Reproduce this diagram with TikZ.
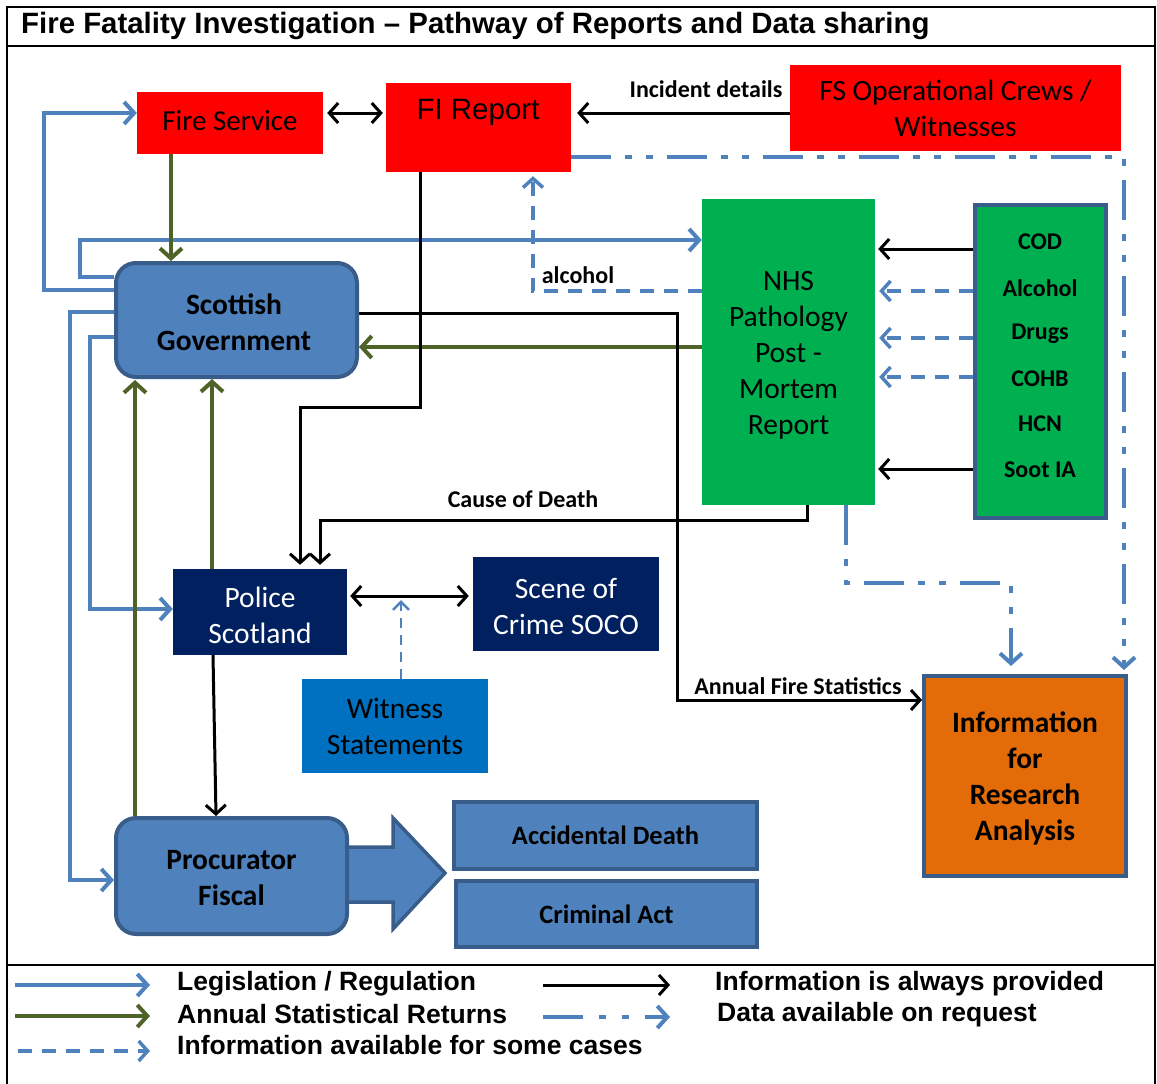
\documentclass[tikz,border=0pt]{standalone}
\usepackage{fontspec}
\setmainfont{Carlito}
\newfontfamily\arialf{Liberation Sans}
\usetikzlibrary{arrows.meta,backgrounds}
\definecolor{fred}{HTML}{FF0000}
\definecolor{fgreen}{HTML}{00B050}
\definecolor{sgblue}{HTML}{4F81BD}
\definecolor{sgborder}{HTML}{385D8A}
\definecolor{navy}{HTML}{002060}
\definecolor{witblue}{HTML}{0070C0}
\definecolor{forange}{HTML}{E36C09}
\definecolor{olive}{HTML}{4F6228}
\tikzset{
  fsz/.style={font=\fontsize{#1}{36}\selectfont},
  redbox/.style={fill=fred, draw=none, inner sep=0pt},
  sgbox/.style={fill=sgblue, draw=sgborder, line width=4pt, rounded corners=20pt, inner sep=0pt, align=center, font=\bfseries\fontsize{29.5}{36}\selectfont},
  navybox/.style={fill=navy, draw=none, inner sep=0pt, align=center, text=white, font=\fontsize{29.5}{36}\selectfont},
  rectbox/.style={fill=sgblue, draw=sgborder, line width=3.5pt, inner sep=0pt, font=\bfseries\fontsize{26.5}{30}\selectfont},
  leg/.style={draw=sgblue, line width=4pt, -{Straight Barb[length=10pt,width=22pt]}},
  stat/.style={draw=olive, line width=4pt, -{Straight Barb[length=10pt,width=22pt]}},
  info/.style={draw=black, line width=3pt, -{Straight Barb[length=9pt,width=20pt]}},
  some/.style={draw=sgblue, line width=3.5pt, dash pattern=on 14pt off 10pt, -{Straight Barb[length=9pt,width=20pt]}},
  req/.style={draw=sgblue, line width=4pt, dash pattern=on 40pt off 14pt on 7pt off 14pt on 7pt off 14pt, -{Straight Barb[length=10pt,width=22pt]}},
  lbl/.style={font=\bfseries\fontsize{24}{28}\selectfont, inner sep=0pt},
  legtxt/.style={anchor=west, inner sep=0pt, font=\arialf\bfseries\fontsize{26.5}{30}\selectfont}
}
\begin{document}
\begin{tikzpicture}[x=1pt,y=-1pt]
\useasboundingbox (0,0) rectangle (1157,1084);
% frame
\draw[line width=2.5pt] (7,1086) -- (7,7) -- (1155,7) -- (1155,1086);
\draw[line width=2.5pt] (7,46) -- (1155,46);
\draw[line width=2.5pt] (7,965) -- (1155,965);
\node[anchor=west, inner sep=0pt, font=\arialf\bfseries\fontsize{29.4}{32}\selectfont] (title) at (21,26) {Fire Fatality Investigation – Pathway of Reports and Data sharing};

% boxes
\node[redbox, minimum width=186pt, minimum height=62pt] (fs) at (230,123) {};
\node[inner sep=0pt, fsz=29] (fst) at (230,121) {Fire Service};
\node[redbox, minimum width=185pt, minimum height=89pt] (fir) at (478.5,127.5) {};
\node[inner sep=0pt, font=\arialf\fontsize{29.5}{32}\selectfont] (firt) at (478,112) {FI Report};
\node[redbox, minimum width=331pt, minimum height=86pt, align=center, fsz=29.5] (crews) at (955.5,108) {FS Operational Crews /\\Witnesses};
\node[fill=fgreen, inner sep=0pt, minimum width=173pt, minimum height=306pt] (nhs) at (788.5,352) {};
\node[inner sep=0pt, align=center, font=\fontsize{29.5}{36}\selectfont] (nhst) at (788.5,355) {NHS\\Pathology\\Post -\\Mortem\\Report};
\node[fill=fgreen, draw=sgborder, line width=4pt, inner sep=0pt, minimum width=131pt, minimum height=313pt] (tests) at (1040.5,361.5) {};
\foreach \t/\yy/\nm in {COD/242/tcod, Alcohol/288/talc, Drugs/334/tdrg, COHB/379/tcoh, HCN/424/thcn, Soot IA/470/tsoot}
  \node[lbl] (\nm) at (1040,\yy) {\t};
\node[sgbox, minimum width=241pt, minimum height=114pt] (sg) at (236.5,320) {};
\node[inner sep=0pt, align=center, font=\bfseries\fontsize{29.5}{36}\selectfont] (sgt) at (234,322) {Scottish\\Government};
\node[navybox, minimum width=174pt, minimum height=86pt] (ps) at (260,612) {};
\node[inner sep=0pt, align=center, text=white, font=\fontsize{29.5}{36}\selectfont] (pst) at (260,615) {Police\\Scotland};
\node[navybox, minimum width=186pt, minimum height=94pt] (soco) at (566,604) {};
\node[inner sep=0pt, align=center, text=white, font=\fontsize{29.5}{36}\selectfont] (socot) at (566,606) {Scene of\\Crime SOCO};
\node[fill=witblue, inner sep=0pt, minimum width=186pt, minimum height=94pt, align=center, font=\fontsize{29.5}{36}\selectfont] (wit) at (395,726) {Witness\\Statements};
\fill[sgblue, draw=sgborder, line width=3.5pt, line join=miter] (340,847) -- (393,847) -- (393,818) -- (445,873) -- (393,929) -- (393,902) -- (340,902) -- cycle;
\node[sgbox, minimum width=231pt, minimum height=116pt] (pf) at (231.5,876) {};
\node[inner sep=0pt, align=center, font=\bfseries\fontsize{29.5}{36}\selectfont] (pft) at (231.5,878) {Procurator\\Fiscal};
\node[rectbox, minimum width=303pt, minimum height=67pt] (acc) at (605.5,835.5) {Accidental Death};
\node[rectbox, minimum width=301pt, minimum height=66pt] (crim) at (606.5,914) {Criminal Act};
\node[fill=forange, draw=sgborder, line width=4pt, inner sep=0pt, minimum width=202pt, minimum height=200pt] (info) at (1025,776) {};
\node[inner sep=0pt, align=center, font=\bfseries\fontsize{29.5}{36}\selectfont] (infot) at (1025,778) {Information\\for\\Research\\Analysis};

% labels
\node[lbl] (lincident) at (706,89) {Incident details};
\node[lbl] (lalc) at (578,275) {alcohol};
\node[lbl] (lcod) at (523,499) {Cause of Death};
\node[lbl] (lafs) at (798,686) {Annual Fire Statistics};

\coordinate (wx) at (401,600);
\begin{scope}[on background layer]
% legislation
\draw[leg] (sg.west |- 0,290) -- (44,290) -- (44,113) -- (fs.west |- 0,113);
\draw[leg] (sg.west |- 0,277) -- (80,277) -- (80,240) -- (nhs.west |- 0,240);
\draw[leg] (sg.west |- 0,312) -- (70,312) -- (70,880) -- (pf.west |- 0,880);
\draw[leg] (sg.west |- 0,337) -- (90,337) -- (90,609) -- (ps.west |- 0,609);
% statistical returns
\draw[stat] (fs.south -| 171,0) -- (sg.north -| 171,0);
\draw[stat] (nhs.west |- 0,347) -- (sg.east |- 0,347);
\draw[stat] (ps.north -| 212,0) -- (sg.south -| 212,0);
\draw[stat] (pf.north -| 135,0) -- ([yshift=-1pt]sg.south -| 135,0);
% always provided
\draw[info, {Straight Barb[length=9pt,width=20pt]}-{Straight Barb[length=9pt,width=20pt]}, shorten <=4pt, shorten >=3pt] (fs.east |- 0,113) -- (fir.west |- 0,113);
\draw[info, shorten >=6pt] (crews.west |- 0,113) -- (fir.east |- 0,113);
\draw[info, shorten >=4pt] (fir.south -| 420,0) -- (420,407) -- (300,407) -- (ps.north -| 300,0);
\draw[info, shorten >=4pt] (nhs.south -| 807,0) -- (807,520) -- (320,520) -- (ps.north -| 320,0);
\draw[info] (sg.east |- 0,313) -- (677,313) -- (677,700) -- (info.west |- 0,700);
\draw[info, {Straight Barb[length=9pt,width=20pt]}-{Straight Barb[length=9pt,width=20pt]}, shorten <=3pt, shorten >=4pt] (ps.east |- 0,596) -- (soco.west |- 0,596);
\draw[info] (ps.south -| 213,0) -- (pf.north -| 216,0);
\draw[info, shorten >=3pt] (tests.west |- 0,249) -- (nhs.east |- 0,249);
\draw[info, shorten >=3pt] (tests.west |- 0,469) -- (nhs.east |- 0,469);
% some cases
\draw[some, shorten >=4pt] (nhs.west |- 0,291) -- (533,291) -- (fir.south -| 533,0);
\draw[some, line width=2.5pt, dash pattern=on 10pt off 7pt, -{Straight Barb[length=8pt,width=16pt]}] (wit.north -| 401,0) -- (wx);
\draw[some, shorten >=4pt] (tests.west |- 0,291) -- (nhs.east |- 0,291);
\draw[some, shorten >=4pt] (tests.west |- 0,338) -- (nhs.east |- 0,338);
\draw[some, shorten >=4pt] (tests.west |- 0,377) -- (nhs.east |- 0,377);
% on request
\draw[req, shorten >=4pt] (fir.east |- 0,157) -- (1124,157) -- (info.north -| 1124,0);
\draw[req, shorten >=8pt] (nhs.south -| 846,0) -- (846,583) -- (1011,583) -- (info.north -| 1011,0);
\end{scope}

% legend
\coordinate (la1) at (15,985); \coordinate (lb1) at (150,985);
\coordinate (la2) at (15,1016); \coordinate (lb2) at (150,1016);
\coordinate (la3) at (18,1051); \coordinate (lb3) at (150,1051);
\coordinate (la4) at (543,985); \coordinate (lb4) at (670,985);
\coordinate (la5) at (543,1017); \coordinate (lb5) at (670,1017);
\draw[leg] (la1) -- (lb1);
\draw[stat] (la2) -- (lb2);
\draw[some] (la3) -- (lb3);
\draw[info] (la4) -- (lb4);
\draw[req, dash pattern=on 40pt off 16pt on 7pt off 16pt on 7pt off 16pt] (la5) -- (lb5);
\node[legtxt] (t1) at (177,984) {Legislation / Regulation};
\node[legtxt] (t2) at (177,1014) {Annual Statistical Returns};
\node[legtxt] (t3) at (177,1045) {Information available for some cases};
\node[legtxt] (t4) at (715,984) {Information is always provided};
\node[legtxt] (t5) at (717,1015) {Data available on request};
\end{tikzpicture}
\end{document}
